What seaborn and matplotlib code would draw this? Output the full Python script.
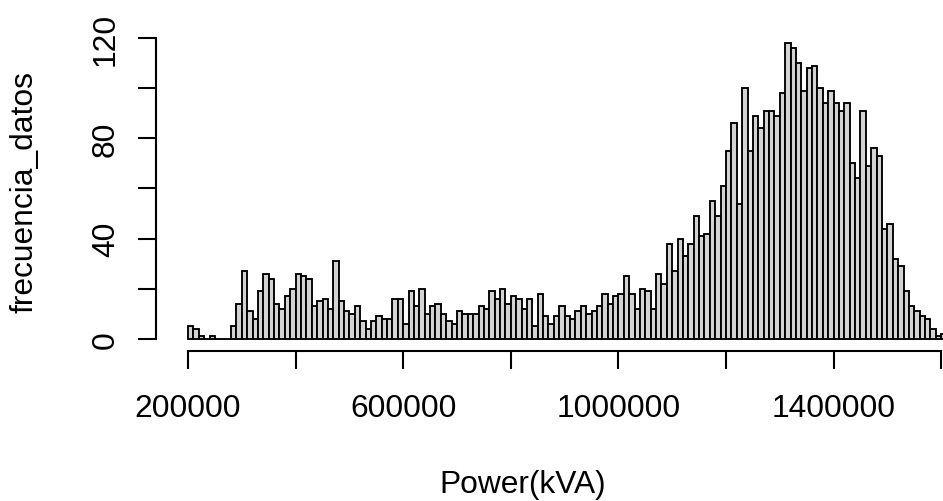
import numpy as np
import pandas as pd
import matplotlib
matplotlib.use("Agg")
import matplotlib.pyplot as plt
import seaborn as sns

# ---- data (bins of width 10000 starting at 200000) ----
bin_start = 200000
bin_width = 10000
counts = [5, 4, 1, 0, 1, 0, 0, 0, 5, 14, 27, 11, 8, 19, 26, 24, 14, 12, 17, 20, 26, 25, 24,
          13, 15, 16, 12, 31, 15, 11, 10, 13, 7, 4, 7, 9, 8, 8, 16, 16, 6, 19, 13, 20, 10,
          13, 14, 10, 7, 6, 11, 10, 10, 10, 13, 12, 19, 16, 20, 14, 17, 16, 12, 16, 5, 18, 9, 6,
          9, 13, 9, 8, 11, 13, 10, 11, 13, 18, 14, 17, 18, 25, 18, 12, 20, 19, 12, 26, 22, 38,
          27, 40, 33, 38, 49, 41, 42, 55, 49, 61, 75, 86, 54,
          100, 75, 89, 84, 91, 91, 89, 98, 118, 116, 110, 99, 108, 109, 100, 94, 99, 94, 91, 94,
          70, 64, 91, 69, 76, 73, 44, 46, 32, 29, 19, 13, 11, 9, 8, 4, 1, 2]
x_ticks = [200000, 400000, 600000, 800000, 1000000, 1200000, 1400000, 1600000]
x_tick_labels = ["200000", "", "600000", "", "1000000", "", "1400000", ""]
y_ticks = [0, 20, 40, 60, 80, 100, 120]
y_tick_labels = ["0", "", "40", "", "80", "", "120"]
x_label = "Power(kVA)"
y_label = "frecuencia_datos"

n = len(counts)
centers = bin_start + bin_width * np.arange(n) + bin_width / 2
df = pd.DataFrame({"power": centers, "freq": counts})

plt.rcParams["font.family"] = ["Liberation Sans", "DejaVu Sans"]
FS = 22.9

W, H = 943, 502
fig = plt.figure(figsize=(W / 100, H / 100), dpi=100)
ax_left, ax_right, ax_top, ax_bottom = 156, 943, 32.2, 351.8
ax = fig.add_axes([ax_left / W, (H - ax_bottom) / H, (ax_right - ax_left) / W, (ax_bottom - ax_top) / H])

sns.histplot(data=df, x="power", weights="freq", binwidth=bin_width,
             binrange=(bin_start, bin_start + n * bin_width), ax=ax,
             color="#D3D3D3", edgecolor="black", linewidth=1.35, alpha=1.0)

ax.set_xlim(140520, 1603346)
ax.set_ylim(-4.72, 122.72)

for s in ["top", "right"]:
    ax.spines[s].set_visible(False)
ax.spines["left"].set_bounds(0, 120)
ax.spines["bottom"].set_bounds(200000, 1600000)
for s in ["left", "bottom"]:
    ax.spines[s].set_linewidth(1.5)

ax.set_xticks(x_ticks)
ax.set_xticklabels(x_tick_labels)
ax.set_yticks(y_ticks)
ax.set_yticklabels(y_tick_labels, rotation=90, va="center")
ax.tick_params(axis="both", direction="out", length=13.3, width=1.5, labelsize=FS)
ax.tick_params(axis="x", pad=17)
ax.tick_params(axis="y", pad=12)
ax.grid(False)
ax.set_xlabel("")
ax.set_ylabel("")

fig.text(523 / W, 1 - 485 / H, x_label, ha="center", va="center", fontsize=FS)
fig.text(25 / W, 1 - 192 / H, y_label, ha="center", va="center", rotation=90, fontsize=FS)

fig.savefig("out.png", dpi=100)
